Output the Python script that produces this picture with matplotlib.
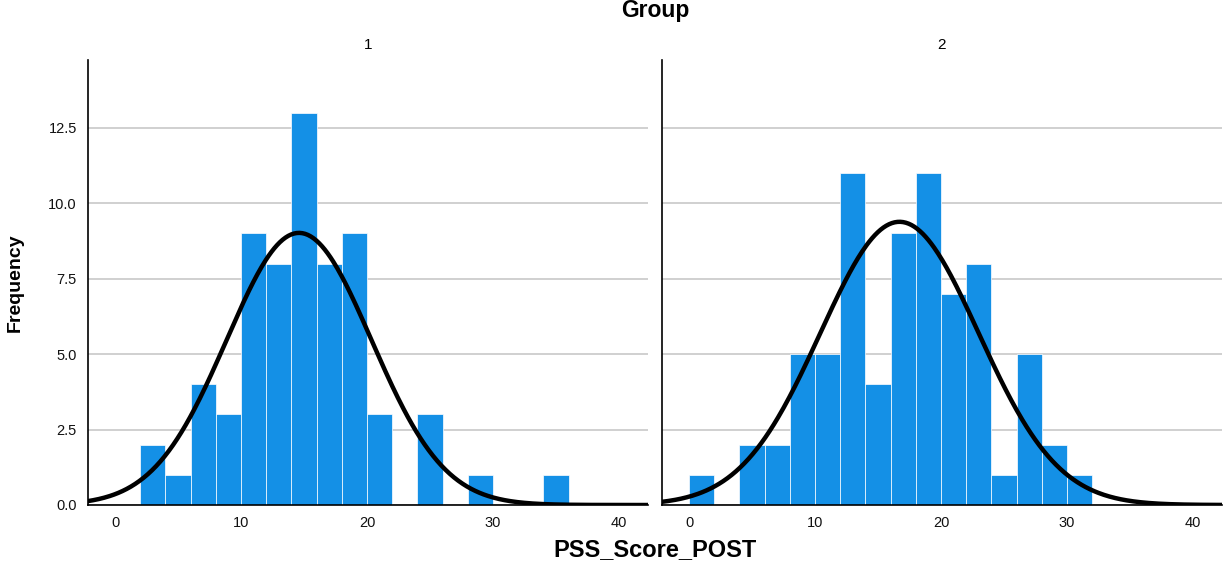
import numpy as np
import matplotlib.pyplot as plt

plt.rcParams['font.family'] = ['Liberation Sans', 'DejaVu Sans']

# histogram bins (width 2) and counts per group
bin_left = np.arange(0, 40, 2)
counts_g1 = [0, 2, 1, 4, 3, 9, 8, 13, 8, 9, 3, 0, 3, 0, 1, 0, 0, 1, 0, 0]
counts_g2 = [1, 0, 2, 2, 5, 5, 11, 4, 9, 11, 7, 8, 1, 5, 2, 1, 0, 0, 0, 0]
groups = ['1', '2']

# normal fit parameters per group
mean_g = [14.6, 16.7]
sd_g = [5.75, 6.29]
bin_width = 2

bar_color = '#1490e6'
grid_color = '#c8c8c8'

fig = plt.figure(figsize=(12.23, 5.62), dpi=100)
ax1 = fig.add_axes([88 / 1223, 57 / 562, 560 / 1223, 445 / 562])
ax2 = fig.add_axes([662 / 1223, 57 / 562, 560 / 1223, 445 / 562], sharey=ax1)

for ax, counts, name, mu, sd in zip([ax1, ax2], [counts_g1, counts_g2], groups, mean_g, sd_g):
    ax.bar(bin_left, counts, width=bin_width, align='edge', color=bar_color,
           edgecolor='white', linewidth=0.5, zorder=2)
    n = sum(counts)
    xs = np.linspace(-2.2, 42.3, 400)
    ys = n * bin_width / (sd * np.sqrt(2 * np.pi)) * np.exp(-(xs - mu) ** 2 / (2 * sd ** 2))
    ax.plot(xs, ys, color='black', linewidth=3.2, zorder=3)

    ax.set_xlim(-2.15, 42.3)
    ax.set_ylim(0, 14.75)
    ax.set_xticks([0, 10, 20, 30, 40])
    ax.set_yticks([0, 2.5, 5.0, 7.5, 10.0, 12.5])
    ax.yaxis.set_major_formatter(plt.FormatStrFormatter('%.1f'))
    ax.grid(axis='y', color=grid_color, linewidth=1.2, zorder=1)
    ax.set_axisbelow(True)
    for side in ['top', 'right']:
        ax.spines[side].set_visible(False)
    ax.spines['left'].set_linewidth(1.2)
    ax.spines['bottom'].set_linewidth(1.2)
    ax.tick_params(length=0, labelsize=10.5, colors='#111111', pad=8)
    ax.set_title(name, fontsize=11, pad=8)

ax2.tick_params(axis='y', labelleft=False)

fig.text(655 / 1223, 1 - 10 / 562, 'Group', ha='center', va='center',
         fontsize=16.5, fontweight='bold')
fig.text(15 / 1223, 1 - 283 / 562, 'Frequency', ha='center', va='center',
         rotation=90, fontsize=14, fontweight='bold')
fig.text(655 / 1223, 1 - 550 / 562, 'PSS_Score_POST', ha='center', va='center',
         fontsize=17, fontweight='bold')

fig.savefig('out.png', dpi=100)
